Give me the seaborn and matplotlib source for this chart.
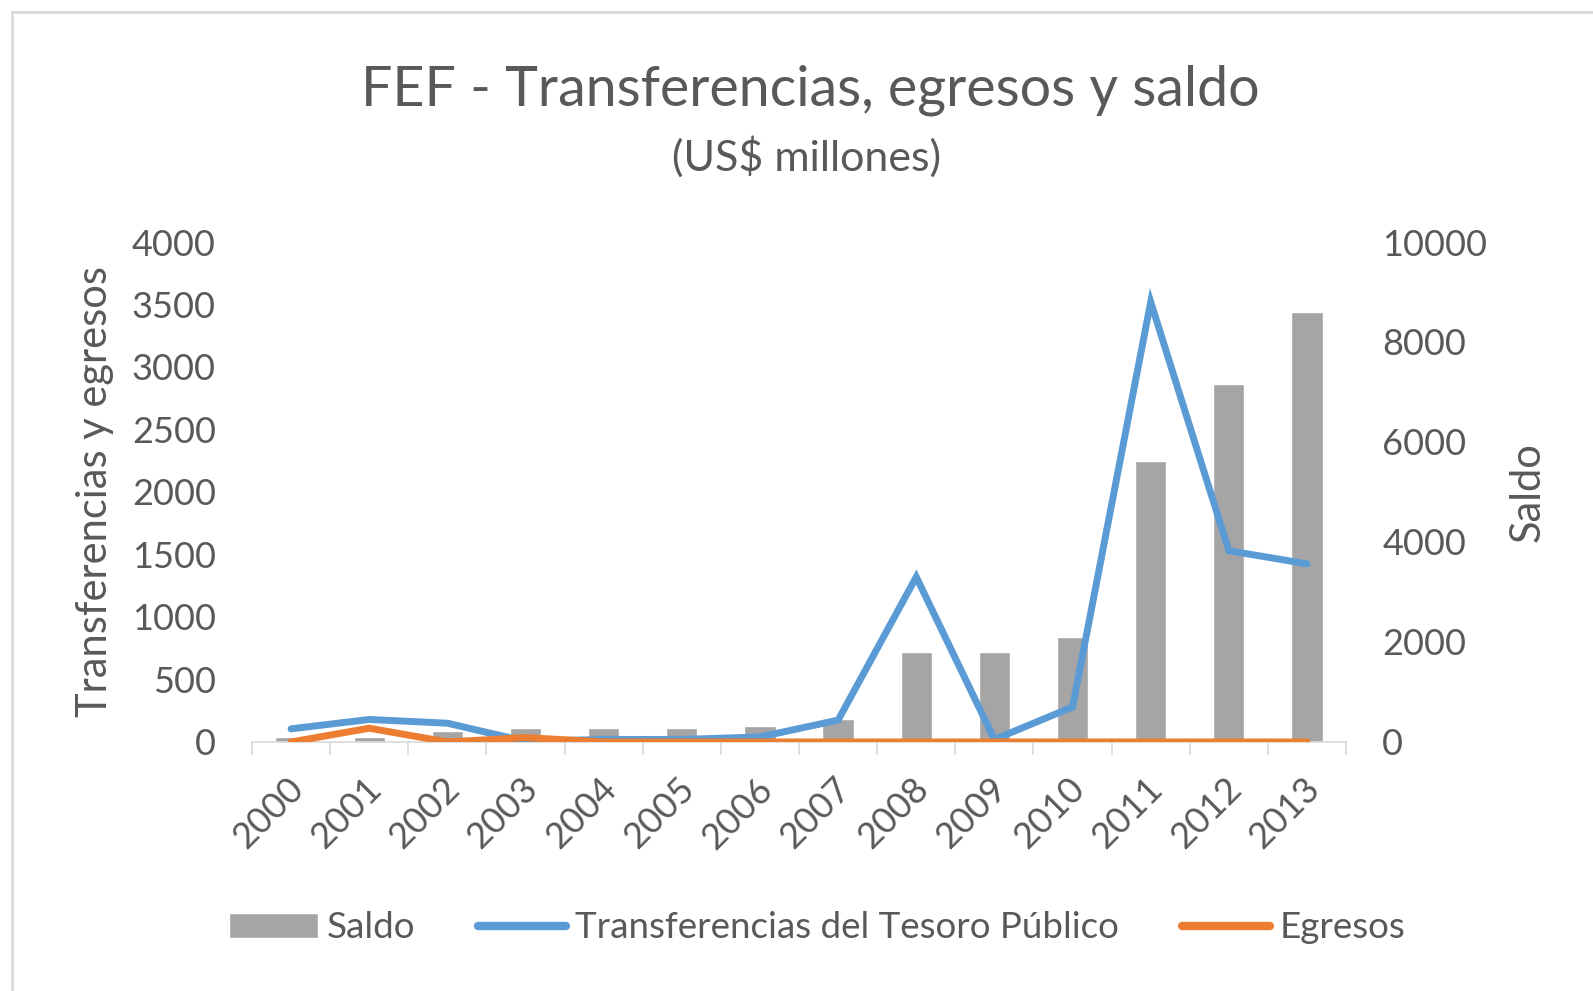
"""
FEF - Transferencias, egresos y saldo (US$ millones)

Bars: saldo (right axis)
Lines: transferencias del Tesoro Público and egresos (left axis)
"""

# imports
import matplotlib
matplotlib.use("Agg")
import numpy as np
import pandas as pd
import matplotlib.pyplot as plt
import matplotlib.transforms as mtransforms
from matplotlib.patches import Rectangle
import seaborn as sns

# data (US$ millones)
years = ["2000", "2001", "2002", "2003", "2004", "2005", "2006",
         "2007", "2008", "2009", "2010", "2011", "2012", "2013"]
saldo = [90, 100, 220, 270, 270, 270, 310, 450, 1800, 1800, 2100, 5620, 7150, 8600]
transferencias = [105, 180, 150, 5, 20, 20, 40, 175, 1320, 20, 280, 3520, 1530, 1425]
egresos = [0, 110, 0, 35, 0, 0, 0, 0, 0, 0, 0, 0, 0, 0]

# settings
C_BAR = "#a5a5a5"
C_BLUE = "#5b9bd5"
C_ORANGE = "#ed7d31"
C_TEXT = "#595959"
C_AXIS = "#d9d9d9"
FS_TICK = 26
LW = 5.0


def main():
    sns.set_style("white")
    plt.rcParams["font.family"] = ["Lato", "DejaVu Sans"]

    df = pd.DataFrame({"year": years, "saldo": saldo,
                       "transferencias": transferencias, "egresos": egresos})

    # create figure and axes
    fig = plt.figure(figsize=(15.93, 9.91), dpi=100)
    ax = fig.add_axes([0.1582, 0.2513, 0.6868, 0.5045])
    ax2 = ax.twinx()

    # saldo bars (right axis)
    sns.barplot(data=df, x="year", y="saldo", color=C_BAR, saturation=1,
                width=0.4, errorbar=None, ax=ax, label="Saldo")

    # transfer / outflow lines (left axis)
    sns.lineplot(data=df, x="year", y="transferencias", color=C_BLUE,
                 linewidth=LW, ax=ax2, label="Transferencias del Tesoro Público",
                 solid_capstyle="round", solid_joinstyle="miter")
    sns.lineplot(data=df, x="year", y="egresos", color=C_ORANGE,
                 linewidth=LW, ax=ax2, label="Egresos", solid_capstyle="round")

    # axes sides
    ax.yaxis.tick_right()
    ax.yaxis.set_label_position("right")
    ax2.yaxis.tick_left()
    ax2.yaxis.set_label_position("left")

    # limits and ticks
    ax.set_ylim(0, 10000)
    ax.set_yticks(np.arange(0, 10001, 2000))
    ax2.set_ylim(0, 4000)
    ax2.set_yticks(np.arange(0, 4001, 500))
    ax.set_xlim(-0.5, len(years) - 0.5)
    ax.set_xticks(range(len(years)))
    ax.set_xticklabels(years, rotation=45, ha="right", va="center",
                       rotation_mode="anchor")
    ax.set_xticks(np.arange(-0.5, len(years), 1), minor=True)
    ax.tick_params(axis="x", which="major", length=0, pad=30,
                   labelsize=FS_TICK, labelcolor=C_TEXT)
    ax.tick_params(axis="x", which="minor", length=9.5, width=1.2,
                   color=C_AXIS, direction="out", bottom=True)
    ax.tick_params(axis="y", length=0, pad=26, labelsize=FS_TICK,
                   labelcolor=C_TEXT)
    ax2.tick_params(axis="y", length=0, pad=26, labelsize=FS_TICK,
                    labelcolor=C_TEXT)

    # nudge rotated year labels slightly right
    shift = mtransforms.ScaledTranslation(7 / 100, 0, fig.dpi_scale_trans)
    for lbl in ax.get_xticklabels():
        lbl.set_transform(lbl.get_transform() + shift)

    # labels
    ax.set_xlabel("")
    ax2.set_xlabel("")
    ax.set_ylabel("Saldo", fontsize=30, color=C_TEXT)
    ax.yaxis.set_label_coords(1.149, 0.5)
    ax2.set_ylabel("Transferencias y egresos", fontsize=30, color=C_TEXT)
    ax2.yaxis.set_label_coords(-0.126, 0.5)

    # spines
    for a in [ax, ax2]:
        for side in ["top", "left", "right", "bottom"]:
            a.spines[side].set_visible(False)
    ax.spines["bottom"].set_visible(True)
    ax.spines["bottom"].set_color(C_AXIS)
    ax.spines["bottom"].set_linewidth(1.2)
    ax.grid(False)
    ax2.grid(False)

    # title
    fig.text(0.5085, 0.909, "FEF - Transferencias, egresos y saldo",
             ha="center", va="center", fontsize=40, color=C_TEXT)
    fig.text(0.506, 0.842, "(US$ millones)", ha="center", va="center",
             fontsize=31, color=C_TEXT)

    # legend
    h1, l1 = ax.get_legend_handles_labels()
    h2, l2 = ax2.get_legend_handles_labels()
    for a in [ax, ax2]:
        if a.get_legend() is not None:
            a.get_legend().remove()
    leg = fig.legend(h1 + h2, l1 + l2, loc="center",
                     bbox_to_anchor=(0.513, 0.0636), ncol=3, frameon=False,
                     fontsize=26.5, labelcolor=C_TEXT, handlelength=2.4,
                     handleheight=0.65, handletextpad=0.25, columnspacing=1.7)
    for line in leg.get_lines():
        line.set_linewidth(6)

    # chart frame (only top and left edges visible in the crop)
    fig.add_artist(Rectangle((12 / 1593, -1), 2, 1 + (1 - 12 / 991),
                             transform=fig.transFigure, fill=False,
                             edgecolor=C_AXIS, linewidth=2))

    fig.savefig("out.png", dpi=100)


if __name__ == "__main__":
    main()
